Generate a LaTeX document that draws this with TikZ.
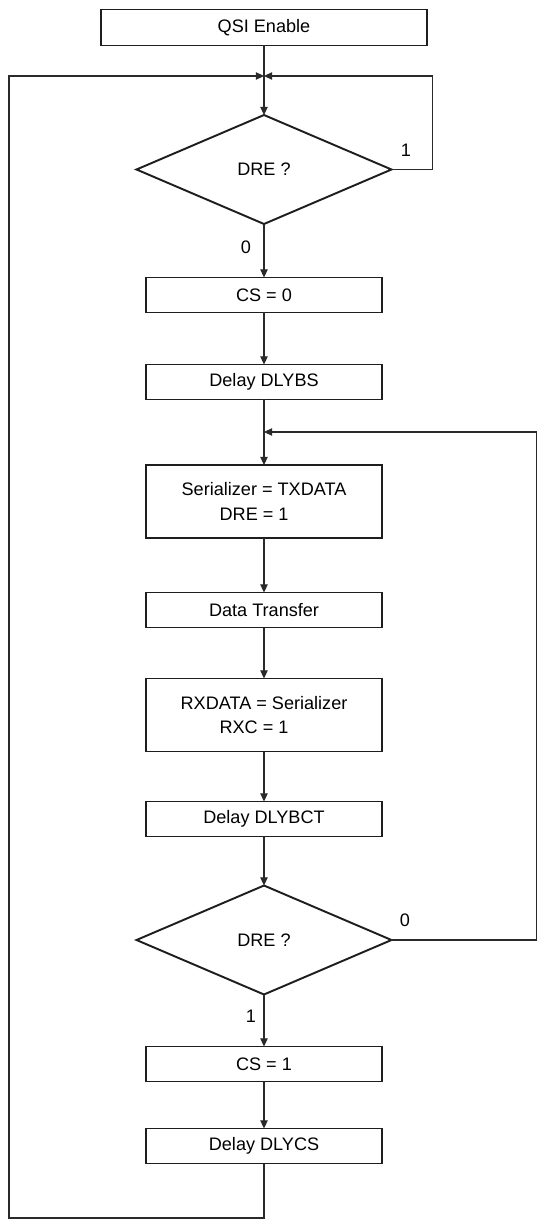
\documentclass[tikz,border=0pt]{standalone}
\usepackage{fontspec}
\setmainfont{Liberation Sans}
\usepackage{xcolor}
\usepackage{tikz}
\usetikzlibrary{positioning, arrows.meta, shapes.geometric}
\definecolor{inkgray}{HTML}{1E1E1E}
\definecolor{wiregray}{HTML}{2A2A2A}

\tikzset{
  procbox/.style={draw=inkgray, line width=1.1pt, rectangle, outer sep=0pt,
                  minimum width=4.72cm, minimum height=0.70cm, inner sep=2pt},
  tallbox/.style={procbox, minimum height=1.46cm},
  decision/.style={draw=inkgray, line width=1.1pt, diamond, outer sep=0pt,
                   minimum width=5.1cm, minimum height=2.18cm, inner sep=0pt},
  wire/.style={draw=wiregray, line width=0.6pt},
  flow/.style={wire, -{Triangle[length=4.6pt, width=4.2pt]}},
  branch/.style={inner sep=0pt}
}

\begin{document}
\begin{tikzpicture}[x=0.02cm, y=-0.02cm, font=\fontsize{10.3}{13}\selectfont]
    \useasboundingbox (0,0) rectangle (540,1226);

    % steps
    \node[procbox, minimum width=6.52cm, minimum height=0.72cm] (qsi) at (264,27.5) {QSI Enable};
    \node[decision] (dreA) at (264,169.5) {DRE ?};
    \node[procbox] (csLow) at (264,295) {CS = 0};
    \node[procbox] (dlybs) at (264,382) {Delay DLYBS};
    \node[tallbox, align=left] (txload) at (264,501.5)
      {Serializer = TXDATA\\[1pt]\hspace*{0.76cm}DRE = 1};
    \node[procbox] (xfer) at (264,610) {Data Transfer};
    \node[tallbox, align=left] (rxload) at (264,715)
      {RXDATA = Serializer\\[1pt]\hspace*{0.78cm}RXC = 1};
    \node[procbox] (dlybct) at (264,819) {Delay DLYBCT};
    \node[decision] (dreB) at (264,940) {DRE ?};
    \node[procbox] (csHigh) at (264,1064) {CS = 1};
    \node[procbox] (dlycs) at (264,1146) {Delay DLYCS};

    % branch labels
    \node[branch] (oneA) at (406,150) {1};
    \node[branch] (zeroA) at (246,247) {0};
    \node[branch] (zeroB) at (405,920) {0};
    \node[branch] (oneB) at (251,1016) {1};

    % joins
    \coordinate (joinTop) at (264,76);
    \coordinate (joinMid) at (264,432);
    \coordinate (outerLeft) at (9,1218);

    % main chain
    \draw[flow] (qsi) -- (dreA);
    \draw[flow] (dreA) -- (csLow);
    \draw[flow] (csLow) -- (dlybs);
    \draw[flow] (dlybs) -- (txload);
    \draw[flow] (txload) -- (xfer);
    \draw[flow] (xfer) -- (rxload);
    \draw[flow] (rxload) -- (dlybct);
    \draw[flow] (dlybct) -- (dreB);
    \draw[flow] (dreB) -- (csHigh);
    \draw[flow] (csHigh) -- (dlycs);

    % loops
    \draw[flow] (dreA.east) -- ++(41,0) |- (joinTop);
    \draw[flow] (dreB.east) -- ++(145,0) |- (joinMid);
    \draw[flow] (dlycs.south) |- (outerLeft) |- (joinTop);
\end{tikzpicture}
\end{document}
